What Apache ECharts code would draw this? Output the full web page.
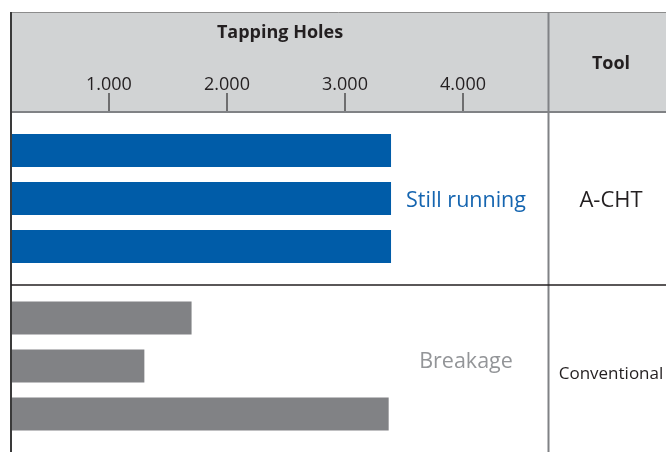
<!DOCTYPE html>
<html>
<head>
<meta charset="utf-8">
<script src="https://cdn.jsdelivr.net/npm/echarts@6/dist/echarts.min.js"></script>
<style>
html, body { margin: 0; padding: 0; background: #fff; }
#chart { width: 666px; height: 452px; }
</style>
</head>
<body>
<div id="chart"></div>
<script>
// data
var runs = ['Test 1', 'Test 2', 'Test 3']
var stillRunning = [3390, 3390, 3390]
var breakage = [1700, 1300, 3370]
var sections = ['Still running', 'Breakage']
var tools = ['A-CHT', 'Conventional']
var tickValues = [1000, 2000, 3000, 4000]
var tickLabels = ['1.000', '2.000', '3.000', '4.000']

var FONT = '"Open Sans", "Noto Sans", sans-serif'
var BLUE = '#005ca8'
var GREY = '#818285'

var chart = echarts.init(document.getElementById('chart'))

function line (x1, y1, x2, y2, color, w) {
    return {
        type: 'line',
        z: 100,
        shape: { x1: x1, y1: y1, x2: x2, y2: y2 },
        style: { stroke: color, lineWidth: w }
    }
}

function label (text, x, y, size, color, weight) {
    return {
        type: 'text',
        z: 100,
        x: x,
        y: y,
        style: {
            text: text,
            fill: color,
            font: (weight || 'normal') + ' ' + size + 'px ' + FONT,
            textAlign: 'center',
            textVerticalAlign: 'middle'
        }
    }
}

var xBase = {
    type: 'value',
    min: 170,
    max: 4720,
    splitLine: { show: false }
}

var option = {
    animation: false,
    grid: [
        { left: 11, right: 118, top: 126.5, height: 144 },
        { left: 11, right: 118, top: 294, height: 144 }
    ],
    xAxis: [
        Object.assign({}, xBase, {
            gridIndex: 0,
            position: 'top',
            offset: 14.5,
            axisLine: { show: false },
            axisTick: {
                show: true,
                length: 19,
                customValues: tickValues,
                lineStyle: { color: '#4d4d4d', width: 1.5 }
            },
            axisLabel: {
                show: true,
                margin: 18,
                fontSize: 18,
                fontFamily: FONT,
                color: '#231f20',
                customValues: tickValues,
                formatter: function (v) {
                    return tickLabels[tickValues.indexOf(v)]
                }
            }
        }),
        Object.assign({}, xBase, { gridIndex: 1, show: false })
    ],
    yAxis: [
        { type: 'category', gridIndex: 0, data: runs, inverse: true, show: false },
        { type: 'category', gridIndex: 1, data: runs, inverse: true, show: false }
    ],
    series: [
        {
            name: sections[0],
            type: 'bar',
            xAxisIndex: 0,
            yAxisIndex: 0,
            data: stillRunning,
            barWidth: 33,
            itemStyle: { color: BLUE }
        },
        {
            name: sections[1],
            type: 'bar',
            xAxisIndex: 1,
            yAxisIndex: 1,
            data: breakage,
            barWidth: 33,
            itemStyle: { color: GREY }
        }
    ],
    graphic: [
        // header band
        {
            type: 'rect',
            z: -10,
            shape: { x: 11, y: 12, width: 655, height: 100 },
            style: { fill: '#d1d3d4' }
        },
        line(11, 12.5, 666, 12.5, '#8c8c8c', 1),
        line(11, 112, 666, 112, '#808285', 2),
        line(11, 12, 11, 452, '#3a3a3a', 2),
        line(548.5, 12, 548.5, 452, '#808285', 2),
        line(11, 285, 666, 285, '#231f20', 1.5),
        label('Tapping Holes', 280, 33, 18, '#231f20', 'bold'),
        label('Tool', 611, 64, 18, '#231f20', 'bold'),
        label(sections[0], 466, 200.5, 21.5, '#1565b0'),
        label(sections[1], 466, 361.5, 21.5, '#939598'),
        label(tools[0], 611, 201, 22, '#231f20'),
        label(tools[1], 611, 374, 17, '#231f20')
    ]
}

chart.setOption(option)
</script>
</body>
</html>
